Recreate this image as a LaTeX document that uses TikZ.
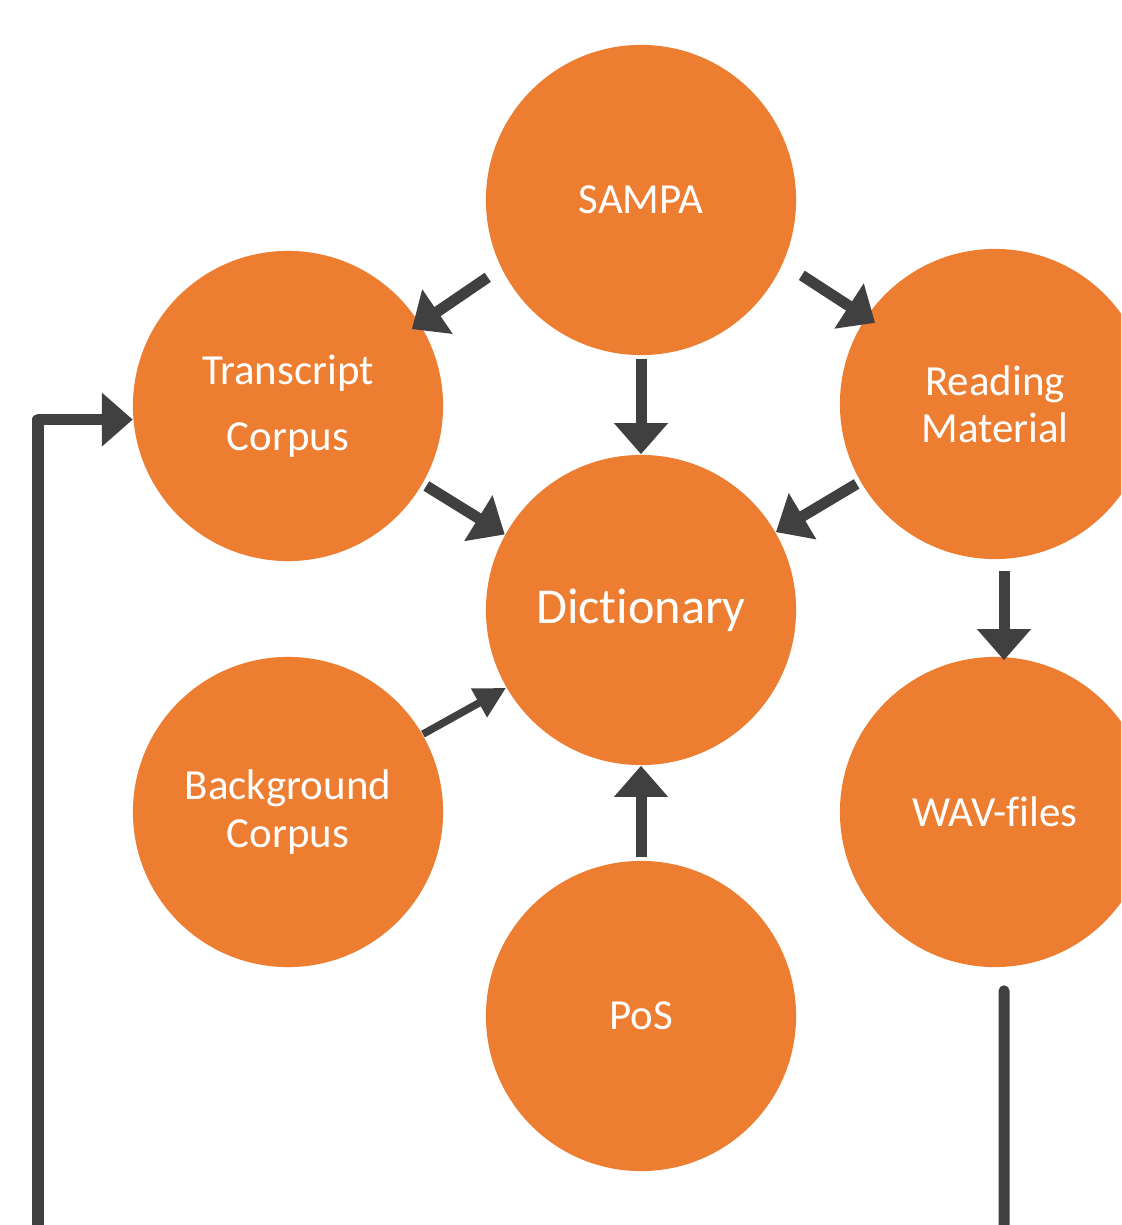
\documentclass[tikz,border=0pt]{standalone}
\usepackage{fontspec}
\setmainfont{Carlito}[Ligatures={NoCommon}]
\usetikzlibrary{arrows.meta}
\definecolor{bubbleorange}{HTML}{ED7D31}
\definecolor{linkgray}{HTML}{404040}
\begin{document}
\begin{tikzpicture}[x=0.01cm, y=0.01cm]
\tikzstyle{every node}+=[inner sep=0pt]
\tikzstyle{bubble}=[circle, fill=bubbleorange, minimum size=3.1cm, text=white, align=center, font=\fontsize{12.2}{13.4}\selectfont]
\tikzstyle{link}=[draw=linkgray, line width=0.11cm, line join=round, -{Triangle[length=0.31cm,width=0.52cm]}]
\tikzstyle{thinlink}=[draw=linkgray, line width=0.075cm, -{Triangle[length=0.31cm,width=0.31cm]}]
\useasboundingbox (0,0) rectangle (1121,-1225);
\clip (0,0) rectangle (1121,-1225);
\node [bubble] (sampa) at (641,-200) {SAMPA};
\node [bubble] (tc) at (288,-406) {Transcript\\[5.4pt]Corpus};
\node [bubble] (rm) at (995,-404) {Reading\\Material};
\node [bubble, font=\fontsize{14.3}{17}\selectfont] (dict) at (641,-610) {Dictionary};
\node [bubble] (bc) at (288,-812) {Background\\Corpus};
\node [bubble] (wav) at (995,-812) {WAV-files};
\node [bubble] (pos) at (641,-1016) {PoS};
\coordinate (loopstart) at (38,-1240);
\coordinate (wavend) at (1004,-1240);
\draw [link, shorten <=0.16cm, shorten >=-0.10cm] (sampa.206) -- (tc.32);
\draw [link, shorten <=0.22cm, shorten >=-0.11cm] (sampa.336) -- (rm.146);
\draw [link, shorten <=0.03cm] (sampa) -- (dict);
\draw [link, shorten <=0.04cm] (tc.330) -- (dict.151);
\draw [link, shorten <=0.04cm] (rm.210) -- (dict.30);
\draw [thinlink] (bc.30) -- (dict.210);
\draw [link, shorten <=0.03cm] (pos) -- (dict);
\draw [link, shorten <=0.11cm, shorten >=-0.04cm] ([xshift=0.09cm]rm.south) -- ([xshift=0.09cm]wav.north);
\draw [link] (loopstart) |- (tc.185);
\draw [draw=linkgray, line width=0.11cm, line cap=round, shorten <=0.23cm] ([xshift=0.09cm]wav.south) -- (wavend);
\end{tikzpicture}
\end{document}
